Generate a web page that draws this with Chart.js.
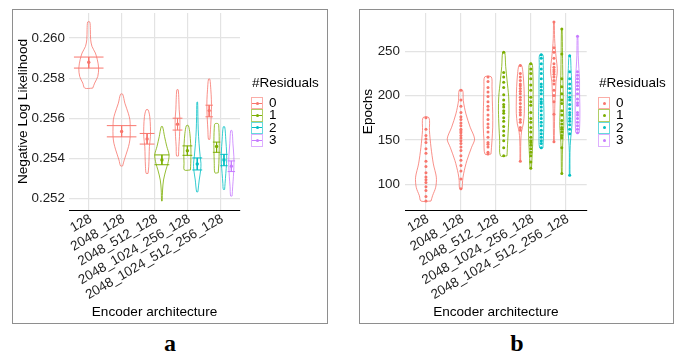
<!DOCTYPE html>
<html>
<head>
<meta charset="utf-8">
<script src="https://cdn.jsdelivr.net/npm/chart.js@4.4.1/dist/chart.umd.min.js"></script>
<style>
  html, body { margin: 0; padding: 0; background: #fff; }
  body { position: relative; width: 674px; height: 356px; overflow: hidden;
         font-family: "Liberation Sans", Arial, Helvetica, sans-serif; }
  .frame { position: absolute; border: 1px solid #8e8e8e; box-sizing: border-box; }
  canvas { position: absolute; top: 0; }
  .legend { position: absolute; color: #000; font-size: 13.5px; }
  .legend .title { height: 16px; line-height: 16px; margin-bottom: 6px; margin-left: 1px; }
  .legend .row { display: flex; align-items: center; height: 12.4px; }
  .legend .key { position: relative; width: 12px; height: 12.4px; box-sizing: border-box; border: 1px solid; }
  .legend .key .bar { position: absolute; left: 0; right: 0; top: 50%; height: 1px; margin-top: -0.5px; }
  .legend .key .dot { position: absolute; left: 50%; top: 50%; width: 3px; height: 3px; margin: -1.5px 0 0 -1.5px; border-radius: 50%; }
  .legend .lab { margin-left: 6px; line-height: 12.4px; }
  .tag { position: absolute; top: 331px; transform: translateX(-50%);
         font-family: "Liberation Serif", "Times New Roman", serif; font-weight: bold; font-size: 24px; line-height: 24px; }
</style>
</head>
<body>
<div class="frame" style="left:12px; top:9px; width:316px; height:315px;"></div>
<div class="frame" style="left:359px; top:9px; width:315px; height:315px;"></div>
<canvas id="nllChart" width="337" height="330" style="left:0px;"></canvas>
<canvas id="epochChart" width="337" height="330" style="left:337px;"></canvas>
<div id="legendA" class="legend" style="left:251px; top:75px;"></div>
<div id="legendB" class="legend" style="left:598px; top:75px;"></div>
<div class="tag" style="left:170px;">a</div>
<div class="tag" style="left:517px;">b</div>

<script>
// ---- categories ----
const architectures = ['128', '2048_128', '2048_512_128', '2048_1024_256_128', '2048_1024_512_256_128'];
const residuals = ['0', '1', '2', '3'];

// one violin per (architecture, residual count) combination
const groupArch = [0, 1, 2, 2, 3, 3, 3, 4, 4, 4, 4];
const groupRes  = [0, 0, 0, 1, 0, 1, 2, 0, 1, 2, 3];

// ---- panel a: negative log likelihood ----
const nllTicks = [0.252, 0.254, 0.256, 0.258, 0.260];
const nllMean = [0.25879, 0.25534, 0.25497, 0.25392, 0.25570, 0.25438, 0.25372, 0.25638, 0.25459, 0.25392, 0.25361];
const nllHigh = [0.25905, 0.25563, 0.25524, 0.25417, 0.25600, 0.25462, 0.25402, 0.25665, 0.25481, 0.25420, 0.25387];
const nllLow  = [0.25850, 0.25507, 0.25471, 0.25368, 0.25541, 0.25415, 0.25342, 0.25607, 0.25430, 0.25363, 0.25334];
// kernel density of each group: evaluation points and scaled density
const nllDensityAt = [
  [0.25750, 0.25775, 0.25808, 0.25850, 0.25892, 0.25925, 0.25958, 0.25992, 0.26042, 0.26080],
  [0.25362, 0.25392, 0.25442, 0.25475, 0.25508, 0.25558, 0.25592, 0.25625, 0.25675, 0.25720],
  [0.25325, 0.25358, 0.25408, 0.25458, 0.25508, 0.25558, 0.25608, 0.25642],
  [0.25187, 0.25242, 0.25292, 0.25342, 0.25375, 0.25417, 0.25458, 0.25508, 0.25558],
  [0.25412, 0.25458, 0.25508, 0.25558, 0.25600, 0.25642, 0.25692, 0.25742],
  [0.25342, 0.25375, 0.25408, 0.25442, 0.25475, 0.25525, 0.25563],
  [0.25233, 0.25292, 0.25342, 0.25375, 0.25408, 0.25475, 0.25542, 0.25608, 0.25680],
  [0.25495, 0.25542, 0.25592, 0.25642, 0.25692, 0.25742, 0.25795],
  [0.25328, 0.25375, 0.25442, 0.25508, 0.25550, 0.25572],
  [0.25245, 0.25275, 0.25325, 0.25375, 0.25425, 0.25492, 0.25557],
  [0.25212, 0.25258, 0.25308, 0.25358, 0.25408, 0.25475, 0.25538]
];
const nllDensity = [
  [0.27, 0.40, 0.61, 0.67, 0.58, 0.45, 0.22, 0.13, 0.11, 0.07],
  [0.07, 0.18, 0.40, 0.52, 0.58, 0.58, 0.56, 0.45, 0.22, 0.07],
  [0.13, 0.22, 0.27, 0.31, 0.45, 0.45, 0.36, 0.13],
  [0.04, 0.09, 0.22, 0.54, 0.81, 0.97, 0.67, 0.36, 0.09],
  [0.20, 0.27, 0.40, 0.47, 0.47, 0.34, 0.27, 0.13],
  [0.62, 0.68, 0.72, 0.72, 0.66, 0.50, 0.20],
  [0.13, 0.40, 0.70, 0.75, 0.60, 0.36, 0.20, 0.13, 0.07],
  [0.20, 0.35, 0.50, 0.62, 0.60, 0.45, 0.18],
  [0.45, 0.62, 0.71, 0.71, 0.62, 0.45],
  [0.18, 0.30, 0.50, 0.70, 0.72, 0.50, 0.20],
  [0.20, 0.35, 0.55, 0.68, 0.68, 0.42, 0.18]
];

// ---- panel b: epochs ----
const epochTicks = [100, 150, 200, 250];
const epochRuns = [
  [81, 86, 93, 97, 102, 105, 108, 113, 120, 126, 135, 140, 147, 151, 155, 162, 175],
  [95, 106, 115, 121, 127, 132, 138, 142, 146, 149, 152, 155, 158, 160, 162, 166, 169, 173, 176, 181, 188, 195, 206],
  [134, 136, 142, 145, 147, 153, 159, 164, 168, 173, 178, 184, 188, 193, 199, 204, 209, 216, 221],
  [132, 141, 149, 155, 160, 165, 171, 175, 180, 183, 187, 190, 195, 201, 209, 215, 221, 226, 249],
  [126, 161, 164, 170, 173, 178, 181, 184, 187, 191, 195, 198, 202, 205, 208, 211, 213, 217, 221, 225, 234],
  [118, 125, 132, 136, 140, 144, 147, 149, 153, 159, 164, 170, 174, 181, 189, 193, 198, 206, 212, 219, 225, 230, 236],
  [141, 146, 149, 153, 157, 161, 166, 170, 174, 178, 183, 187, 191, 193, 196, 202, 206, 210, 213, 219, 225, 230, 236, 242, 246],
  [148, 179, 193, 200, 206, 213, 217, 221, 224, 227, 229, 232, 236, 242, 249, 254, 283],
  [112, 141, 152, 155, 159, 162, 164, 168, 172, 178, 183, 191, 195, 202, 210, 219, 247, 275],
  [110, 157, 162, 167, 171, 174, 178, 181, 185, 190, 195, 198, 203, 208, 213, 219, 227, 245],
  [158, 162, 166, 170, 174, 178, 181, 189, 192, 196, 202, 207, 211, 215, 219, 223, 227, 267]
];
const epochDensityAt = [
  [81, 87, 96.6, 107.9, 122.9, 141.7, 160.5, 175],
  [95, 104.1, 111.7, 126.7, 141.7, 151.1, 164.3, 179.3, 194.4, 206],
  [134, 149.2, 164.4, 179.7, 194.9, 210, 221],
  [132, 149.2, 164.4, 183.5, 198.7, 217.7, 232.9, 249],
  [126, 135, 150, 160, 168, 180, 195, 210, 225, 234],
  [118, 132.3, 147.4, 158.7, 177.5, 196.4, 215.3, 226.6, 236],
  [141, 158.7, 177.5, 196.4, 215.3, 234.2, 246],
  [148, 177.5, 192.6, 204, 215.3, 222.8, 230.4, 241.7, 253, 264.3, 283],
  [112, 139.8, 154.9, 166.2, 185.1, 204, 222.8, 247.4, 275],
  [110, 136, 151.1, 162.4, 177.5, 196.4, 215.3, 230.4, 245],
  [158, 162.4, 173.8, 188.9, 204, 219.1, 230.4, 245.5, 267]
];
const epochDensity = [
  [0.32, 0.42, 0.62, 0.66, 0.47, 0.32, 0.22, 0.19],
  [0.08, 0.11, 0.17, 0.38, 0.68, 0.87, 0.59, 0.32, 0.15, 0.11],
  [0.38, 0.51, 0.60, 0.60, 0.55, 0.51, 0.42],
  [0.42, 0.51, 0.60, 0.67, 0.63, 0.42, 0.25, 0.13],
  [0.06, 0.06, 0.10, 0.25, 0.57, 0.76, 0.76, 0.70, 0.51, 0.25],
  [0.13, 0.25, 0.38, 0.44, 0.44, 0.44, 0.44, 0.38, 0.25],
  [0.32, 0.44, 0.51, 0.44, 0.44, 0.38, 0.32],
  [0.08, 0.17, 0.25, 0.42, 0.51, 0.76, 0.85, 0.59, 0.34, 0.17, 0.08],
  [0.08, 0.17, 0.34, 0.51, 0.42, 0.34, 0.25, 0.17, 0.08],
  [0.08, 0.08, 0.25, 0.51, 0.68, 0.59, 0.51, 0.34, 0.17],
  [0.42, 0.51, 0.59, 0.59, 0.51, 0.51, 0.34, 0.17, 0.08]
];

// ---- styling ----
const seriesColors = ['#F8766D', '#7CAE00', '#00BFC4', '#C77CFF'];
const gridColor = '#e3e3e3';
const tickColor = '#1e1e1e';
const tickFont = { family: '"Liberation Sans", Arial, sans-serif', size: 13.4 };
const titleFont = { family: '"Liberation Sans", Arial, sans-serif', size: 13.6 };

function withAlpha(hex, a) {
  const n = parseInt(hex.slice(1), 16);
  return `rgba(${(n >> 16) & 255}, ${(n >> 8) & 255}, ${n & 255}, ${a})`;
}

// dodged position of group k inside its architecture slot (dodge width 0.9)
function dodge(k) {
  const members = groupArch.map((a, i) => i).filter(i => groupArch[i] === groupArch[k]);
  const n = members.length;
  const j = members.indexOf(k);
  const slot = 0.9 / n;
  return { center: groupArch[k] + 1 + (j - (n - 1) / 2) * slot, half: slot / 2 };
}

// closed outline: right side upwards, then left side downwards
function violinOutline(k, at, dens) {
  const { center, half } = dodge(k);
  const right = at.map((y, i) => ({ x: center + half * dens[i], y }));
  const left = at.map((y, i) => ({ x: center - half * dens[i], y })).reverse();
  return right.concat(left, [right[0]]);
}

function violinDatasets(at, dens) {
  return groupArch.map((_, k) => ({
    type: 'line',
    data: violinOutline(k, at[k], dens[k]),
    borderColor: withAlpha(seriesColors[groupRes[k]], 0.8),
    borderWidth: 1,
    pointRadius: 0,
    tension: 0.3,
    fill: false,
    order: 3
  }));
}

function errorBarDatasets() {
  return groupArch.map((_, k) => {
    const { center, half } = dodge(k);
    return {
      type: 'line',
      data: [
        { x: center - half, y: nllHigh[k] }, { x: center + half, y: nllHigh[k] }, { x: center, y: null },
        { x: center - half, y: nllLow[k] },  { x: center + half, y: nllLow[k] },  { x: center, y: null },
        { x: center, y: nllHigh[k] }, { x: center, y: nllLow[k] }
      ],
      borderColor: seriesColors[groupRes[k]],
      borderWidth: 1,
      pointRadius: 0,
      spanGaps: false,
      tension: 0,
      order: 2
    };
  });
}

function meanDataset() {
  return {
    type: 'scatter',
    data: groupArch.map((_, k) => ({ x: dodge(k).center, y: nllMean[k] })),
    pointRadius: 1.7,
    pointBorderWidth: 0,
    pointBackgroundColor: groupArch.map((_, k) => seriesColors[groupRes[k]]),
    order: 1
  };
}

function runDatasets() {
  return groupArch.map((_, k) => ({
    type: 'scatter',
    data: epochRuns[k].map(v => ({ x: dodge(k).center, y: v })),
    pointRadius: 1.5,
    pointBorderWidth: 0,
    pointBackgroundColor: seriesColors[groupRes[k]],
    order: 1
  }));
}

function buildPanel(id, cfg) {
  const all = cfg.densityAt.flat();
  const lo = Math.min(...all), hi = Math.max(...all);
  const pad = (hi - lo) * 0.05;
  return new Chart(document.getElementById(id), {
    type: 'line',
    data: { datasets: cfg.datasets },
    options: {
      responsive: false,
      animation: false,
      devicePixelRatio: 1,
      events: [],
      layout: { padding: cfg.padding },
      plugins: { legend: { display: false }, tooltip: { enabled: false } },
      scales: {
        x: {
          type: 'linear',
          min: 0.4,
          max: 5.6,
          afterBuildTicks: s => { s.ticks = architectures.map((_, i) => ({ value: i + 1 })); },
          afterFit: s => { s.height = 120; },
          grid: { color: gridColor, lineWidth: 1.2, drawTicks: false },
          border: { display: true, color: '#000', width: 1 },
          ticks: {
            autoSkip: false, minRotation: 30, maxRotation: 30, padding: 1, labelOffset: 2,
            font: tickFont, color: tickColor,
            callback: v => architectures[Math.round(v) - 1] || ''
          },
          title: { display: true, text: 'Encoder architecture', font: titleFont, color: '#000',
                   padding: { top: 0, bottom: 9.2 } }
        },
        y: {
          type: 'linear',
          min: lo - pad,
          max: hi + pad,
          afterBuildTicks: s => { s.ticks = cfg.ticks.map(v => ({ value: v })); },
          afterFit: s => { s.width = cfg.axisWidth; },
          grid: { color: gridColor, lineWidth: 1.2, drawTicks: false },
          border: { display: false },
          ticks: { padding: cfg.tickPad, font: tickFont, color: tickColor, callback: cfg.format },
          title: { display: true, text: cfg.title, font: titleFont, color: '#000',
                   padding: { top: cfg.titlePad, bottom: 0 } }
        }
      }
    }
  });
}

buildPanel('nllChart', {
  datasets: [meanDataset(), ...errorBarDatasets(), ...violinDatasets(nllDensityAt, nllDensity)],
  densityAt: nllDensityAt,
  ticks: nllTicks,
  format: v => v.toFixed(3),
  title: 'Negative Log Likelihood',
  padding: { left: 0, top: 13, right: 97, bottom: 0 },
  axisWidth: 69,
  tickPad: 4,
  titlePad: 14.6
});

buildPanel('epochChart', {
  datasets: [...runDatasets(), ...violinDatasets(epochDensityAt, epochDensity)],
  densityAt: epochDensityAt,
  ticks: epochTicks,
  format: v => String(v),
  title: 'Epochs',
  padding: { left: 0, top: 13, right: 87.3, bottom: 0 },
  axisWidth: 68,
  tickPad: 5,
  titlePad: 22.9
});

// legends: outlined key with the point (and interval bar for panel a)
function buildLegend(id, withBar) {
  const box = document.getElementById(id);
  const title = document.createElement('div');
  title.className = 'title';
  title.textContent = '#Residuals';
  box.appendChild(title);
  residuals.forEach((r, i) => {
    const row = document.createElement('div');
    row.className = 'row';
    const key = document.createElement('div');
    key.className = 'key';
    key.style.borderColor = withAlpha(seriesColors[i], 0.6);
    if (withBar) {
      const bar = document.createElement('div');
      bar.className = 'bar';
      bar.style.background = seriesColors[i];
      key.appendChild(bar);
    }
    const dot = document.createElement('div');
    dot.className = 'dot';
    dot.style.background = seriesColors[i];
    key.appendChild(dot);
    const lab = document.createElement('span');
    lab.className = 'lab';
    lab.textContent = r;
    row.appendChild(key);
    row.appendChild(lab);
    box.appendChild(row);
  });
}
buildLegend('legendA', true);
buildLegend('legendB', false);
</script>
</body>
</html>
